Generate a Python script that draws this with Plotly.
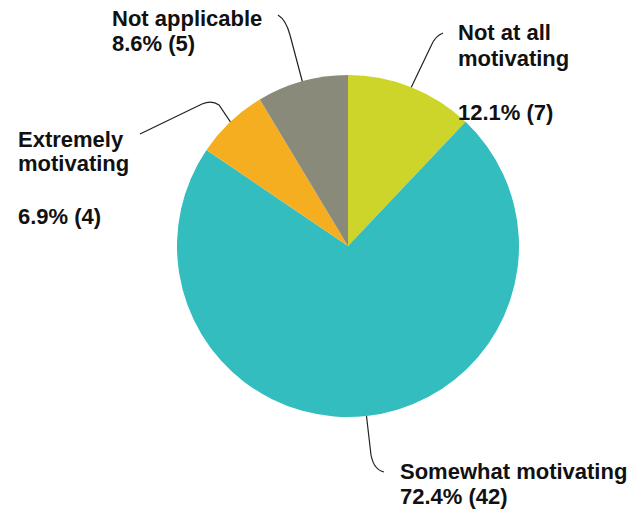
import math
import plotly.graph_objects as go

# ---- data ----
categories = ["Not at all motivating", "Somewhat motivating", "Extremely motivating", "Not applicable"]
counts = [7, 42, 4, 5]
label_lines = [
    ["Not at all", "motivating", "12.1% (7)"],
    ["Somewhat motivating", "72.4% (42)"],
    ["Extremely", "motivating", "6.9% (4)"],
    ["Not applicable", "8.6% (5)"],
]
colors = ["#CDD42A", "#34BDBF", "#F5AE1F", "#898A79"]

W, H = 635, 511
CX, CY, R = 348, 246, 171

def px(x):
    return x / W

def py(y):
    return 1 - y / H

fig = go.Figure(go.Pie(
    labels=categories, values=counts, sort=False, direction="clockwise",
    rotation=0, marker=dict(colors=colors, line=dict(width=0)),
    textinfo="none", hoverinfo="label+percent+value", showlegend=False,
    domain=dict(x=[px(CX - R), px(CX + R)], y=[py(CY + R), py(CY - R)]),
))

# start point of leaders at slice mid-angles (computed from the data)
total = sum(counts)
mids = []
acc = 0
for c in counts:
    mids.append((acc + c / 2) / total * 2 * math.pi)
    acc += c
starts = [(CX + R * math.sin(a), CY - R * math.cos(a)) for a in mids]

# leader geometry (layout offsets, pixels)
leader_tail = [
    [("L", 431, 46), ("Q", 435, 36, 443, 33)],
    [("L", 371, 455), ("Q", 374, 470, 384, 472)],
    [("L", 219, 105), ("Q", 212, 100, 202, 104), ("L", 140, 134)],
    [("L", 290, 35), ("Q", 286, 20, 278, 15)],
]
label_x = [457, 399, 17, 111]
label_baselines = [
    [40, 65, 120],
    [478, 503],
    [146, 170, 223],
    [25, 50],
]

shapes = []
annotations = []
for i in range(len(categories)):
    sx, sy = starts[i]
    d = f"M {px(sx)},{py(sy)}"
    for seg in leader_tail[i]:
        if seg[0] == "L":
            d += f" L {px(seg[1])},{py(seg[2])}"
        else:
            d += f" Q {px(seg[1])},{py(seg[2])} {px(seg[3])},{py(seg[4])}"
    shapes.append(dict(type="path", path=d, xref="paper", yref="paper",
                       line=dict(color="#222222", width=1.2)))
    for t, b in zip(label_lines[i], label_baselines[i]):
        annotations.append(dict(
            text=f"<b>{t}</b>", x=px(label_x[i] - 1), y=py(b - 7), xref="paper", yref="paper",
            xanchor="left", yanchor="middle", showarrow=False,
            font=dict(family="Liberation Sans, Arial, sans-serif", size=22, color="#111111"),
        ))

fig.update_layout(
    width=W, height=H, margin=dict(l=0, r=0, t=0, b=0),
    paper_bgcolor="white", plot_bgcolor="white",
    shapes=shapes, annotations=annotations,
)

fig.write_html("out.html", config={"displayModeBar": False},
               post_script="document.body.style.margin='0';document.body.style.overflow='hidden';")
